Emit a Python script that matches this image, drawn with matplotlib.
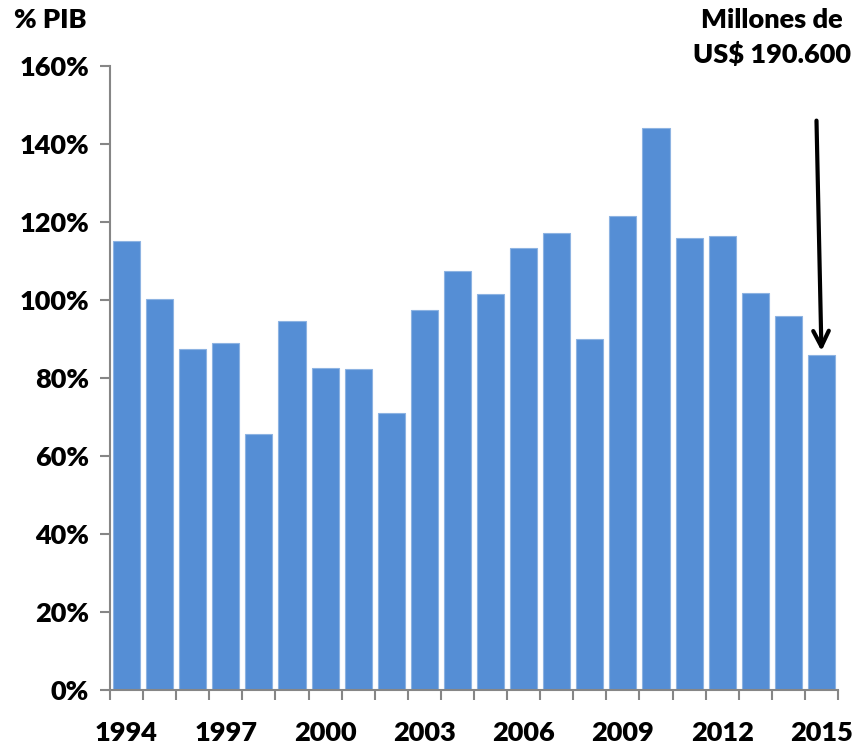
import matplotlib
matplotlib.use("Agg")
import matplotlib.pyplot as plt
import numpy as np

years = list(range(1994, 2016))
pct_pib = [115.0, 100.2, 87.4, 88.9, 65.6, 94.5, 82.5, 82.3, 71.0, 97.4, 107.4,
           101.5, 113.3, 117.2, 90.1, 121.5, 144.0, 115.8, 116.3, 101.7, 96.0, 85.9]
label_years = [1994, 1997, 2000, 2003, 2006, 2009, 2012, 2015]
y_ticks = [0, 20, 40, 60, 80, 100, 120, 140, 160]

plt.rcParams['font.family'] = ['Lato', 'DejaVu Sans']
W = 'heavy'
FS = 19.5

fig = plt.figure(figsize=(8.65, 7.43), dpi=100)
ax = fig.add_axes([110 / 865, 1 - 690 / 743, 728 / 865, 624 / 743])

x = np.arange(len(years))
ax.bar(x, pct_pib, width=0.82, color='#558ED5', edgecolor='#8DB3E2', linewidth=0.8)

ax.set_xlim(-0.5, len(years) - 0.5)
ax.set_ylim(0, 160)

grey = '#868686'
for side in ['top', 'right']:
    ax.spines[side].set_visible(False)
for side in ['left', 'bottom']:
    ax.spines[side].set_color(grey)
    ax.spines[side].set_linewidth(1.5)

# tick marks between bars, year labels centred under bars
ax.set_xticks(np.arange(-0.5, len(years) + 0.5, 1.0))
ax.set_xticklabels([])
ax.set_xticks([years.index(y) for y in label_years], minor=True)
ax.set_xticklabels([str(y) for y in label_years], minor=True, fontsize=FS, fontweight=W)
ax.tick_params(axis='x', which='major', length=7, width=1.5, color=grey, direction='out')
ax.tick_params(axis='x', which='minor', length=0, pad=22)

ax.set_yticks(y_ticks)
ax.set_yticklabels([f"{v}%" for v in y_ticks], fontsize=FS, fontweight=W)
ax.tick_params(axis='y', length=7, width=1.5, color=grey, direction='out', pad=8)

fig.text(14 / 865, 1 - 20 / 743, "% PIB", fontsize=FS, fontweight=W,
         ha='left', va='center')
fig.text(772 / 865, 1 - 20 / 743, "Millones de", fontsize=FS, fontweight=W,
         ha='center', va='center')
fig.text(772 / 865, 1 - 55 / 743, "US$ 190.600", fontsize=FS, fontweight=W,
         ha='center', va='center')

# arrow pointing at the last bar
last = len(years) - 1
ax.annotate("", xy=(last, pct_pib[last] + 1.0), xytext=(last - 0.15, 146),
            arrowprops=dict(arrowstyle='->', color='black', lw=3,
                            mutation_scale=28, shrinkA=0, shrinkB=0))

fig.savefig("out.png", dpi=100)
